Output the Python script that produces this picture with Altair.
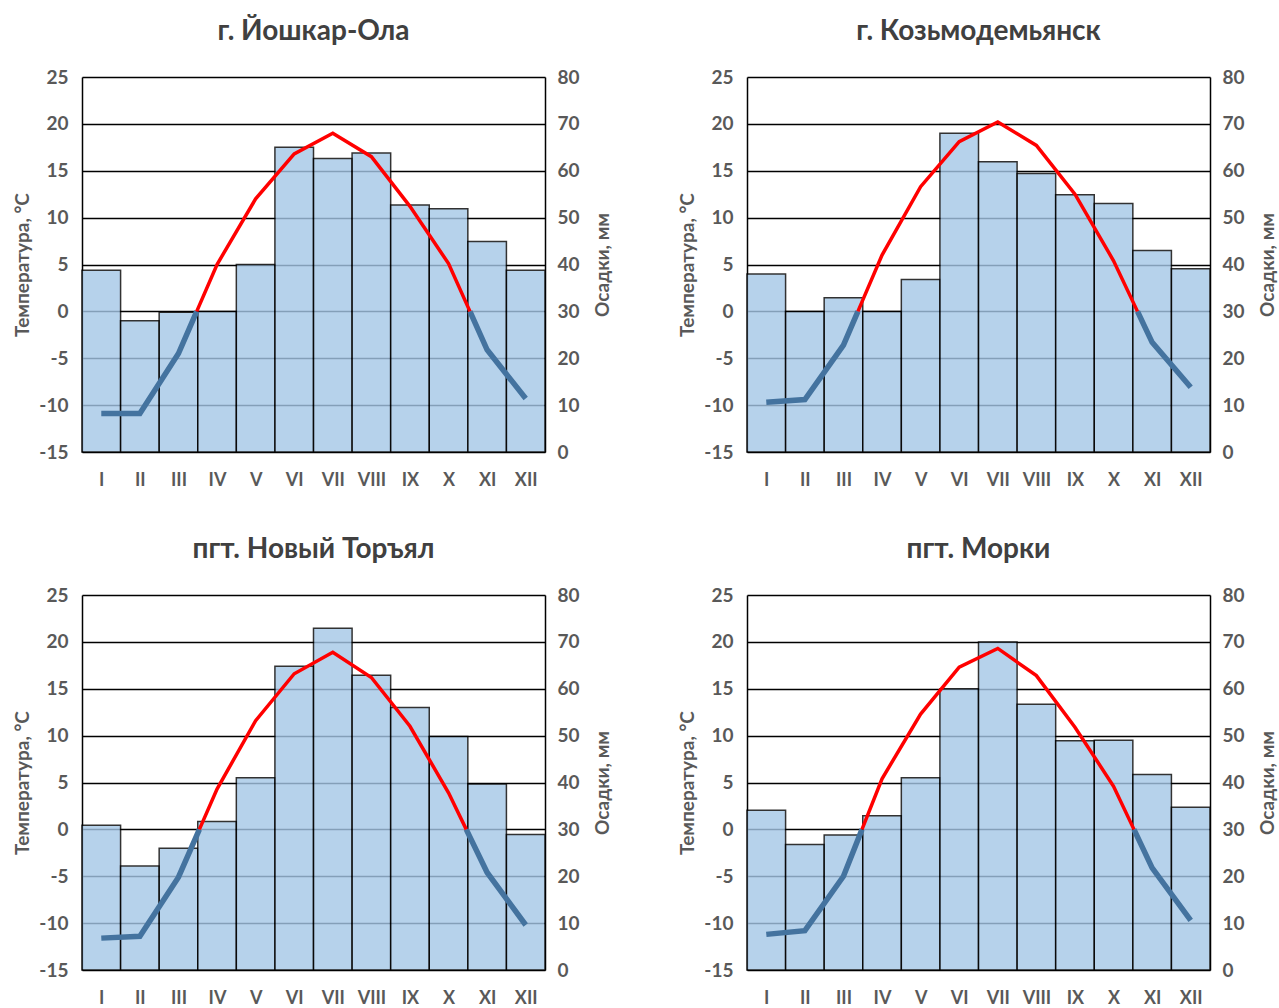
import altair as alt
import pandas as pd

months = ["I", "II", "III", "IV", "V", "VI", "VII", "VIII", "IX", "X", "XI", "XII"]
titles = ["г. Йошкар-Ола", "г. Козьмодемьянск", "пгт. Новый Торъял", "пгт. Морки"]

temp_yoshkar = [-10.9, -10.9, -4.5, 5.0, 12.0, 16.8, 19.0, 16.5, 11.2, 5.1, -4.1, -9.3]
precip_yoshkar = [38.8, 28.0, 29.8, 30.0, 40.0, 65.0, 62.6, 63.8, 52.7, 51.9, 44.9, 38.8]

temp_kozmo = [-9.7, -9.4, -3.6, 6.0, 13.3, 18.1, 20.2, 17.7, 12.5, 5.4, -3.3, -8.1]
precip_kozmo = [38.0, 30.0, 32.9, 30.0, 36.8, 68.0, 61.9, 59.4, 54.9, 53.0, 43.0, 39.1]

temp_torial = [-11.6, -11.4, -5.1, 4.3, 11.6, 16.6, 18.9, 16.2, 11.0, 3.9, -4.6, -10.2]
precip_torial = [30.9, 22.2, 26.0, 31.7, 41.0, 64.8, 72.9, 62.9, 56.0, 49.8, 39.7, 28.9]

temp_morki = [-11.2, -10.8, -5.0, 5.4, 12.3, 17.3, 19.3, 16.4, 10.9, 4.6, -4.1, -9.7]
precip_morki = [34.1, 26.8, 28.8, 32.9, 41.0, 60.0, 70.0, 56.7, 48.9, 49.0, 41.7, 34.7]

temp_ticks = [-15, -10, -5, 0, 5, 10, 15, 20, 25]
precip_ticks = [0, 10, 20, 30, 40, 50, 60, 70, 80]

FONT = "Lato"
TXT = "#595959"


def split_segments(temps):
    """Split the temperature line where it crosses 0 °C (warm = red, cold = blue)."""
    xs = [i + 0.5 for i in range(len(temps))]
    pieces = []
    sign = temps[0] >= 0
    cur = [(xs[0], temps[0])]
    for i in range(1, len(temps)):
        t0, t1 = temps[i - 1], temps[i]
        s1 = t1 >= 0
        if s1 != sign:
            xc = xs[i - 1] + t0 / (t0 - t1)
            cur.append((xc, 0.0))
            pieces.append((sign, cur))
            cur = [(xc, 0.0)]
            sign = s1
        cur.append((xs[i], t1))
    pieces.append((sign, cur))
    rows = []
    for seg, (warm, pts) in enumerate(pieces):
        for o, (x, t) in enumerate(pts):
            rows.append({"x": x, "t": t, "seg": seg, "o": o, "warm": warm})
    return pd.DataFrame(rows)


label_expr = "[" + ",".join("'%s'" % m for m in months) + "][floor(datum.value)]"
XAXIS = alt.Axis(values=[i + 0.5 for i in range(12)], labelExpr=label_expr,
                 title=None, grid=False, domain=False, ticks=False,
                 labelPadding=19, labelFontSize=18)


def panel(title, temps, precip):
    bars_df = pd.DataFrame({
        "x0": list(range(12)),
        "x1": [i + 1 for i in range(12)],
        "p": precip,
        "m": months,
    })
    lines_df = split_segments(temps)
    xscale = alt.Scale(domain=[0, 12], nice=False, zero=False)

    bars = alt.Chart(bars_df).mark_bar(
        color="#A5C7E7", opacity=0.8, stroke="black", strokeWidth=1.5, strokeOpacity=1
    ).encode(
        x=alt.X("x0:Q", scale=xscale, axis=XAXIS),
        x2="x1:Q",
        y=alt.Y("p:Q", scale=alt.Scale(domain=[0, 80], nice=False),
                axis=alt.Axis(orient="right", values=precip_ticks, title="Осадки, мм",
                              grid=False, ticks=False, domain=True, domainColor="black",
                              domainWidth=1.5, labelPadding=12, titleAngle=270,
                              titleBaseline="top", titlePadding=14,
                              labelExpr="'' + datum.value")),
        y2=alt.datum(0),
    )

    tscale = alt.Scale(domain=[-15, 25], nice=False)
    blue = alt.Chart(lines_df[~lines_df["warm"]]).mark_line(
        color="#44739F", strokeWidth=5.5
    ).encode(
        x=alt.X("x:Q", scale=xscale, axis=XAXIS),
        y=alt.Y("t:Q", scale=tscale,
                axis=alt.Axis(orient="left", values=temp_ticks, title="Температура, °C",
                              grid=True, gridColor="black", gridWidth=1.5,
                              ticks=False, domain=True, domainColor="black",
                              domainWidth=1.5, labelPadding=14, titlePadding=6,
                              labelExpr="'' + datum.value")),
        detail="seg:N",
        order="o:Q",
    )
    red = alt.Chart(lines_df[lines_df["warm"]]).mark_line(
        color="#FF0000", strokeWidth=3.5
    ).encode(
        x=alt.X("x:Q", scale=xscale, axis=XAXIS),
        y=alt.Y("t:Q", scale=tscale),
        detail="seg:N",
        order="o:Q",
    )
    lines = alt.layer(blue, red)
    return alt.layer(bars, lines).resolve_scale(y="independent").properties(
        width=463, height=375, title=alt.TitleParams(title, offset=22)
    )


p1 = panel(titles[0], temp_yoshkar, precip_yoshkar)
p2 = panel(titles[1], temp_kozmo, precip_kozmo)
p3 = panel(titles[2], temp_torial, precip_torial)
p4 = panel(titles[3], temp_morki, precip_morki)

chart = alt.vconcat(
    alt.hconcat(p1, p2, spacing=65),
    alt.hconcat(p3, p4, spacing=65),
    spacing=47,
).configure_view(stroke=None).configure_axis(
    labelFont=FONT, labelFontSize=19, labelFontWeight="bold", labelColor=TXT,
    titleFont=FONT, titleFontSize=19, titleFontWeight="bold", titleColor=TXT,
).configure_title(
    font=FONT, fontSize=28, fontWeight="bold", color="#404040", anchor="middle"
).properties(background="white", padding={"left": 13, "top": 18, "right": 0, "bottom": 0})

chart.save("out.html", embed_options={"renderer": "svg", "actions": False})
